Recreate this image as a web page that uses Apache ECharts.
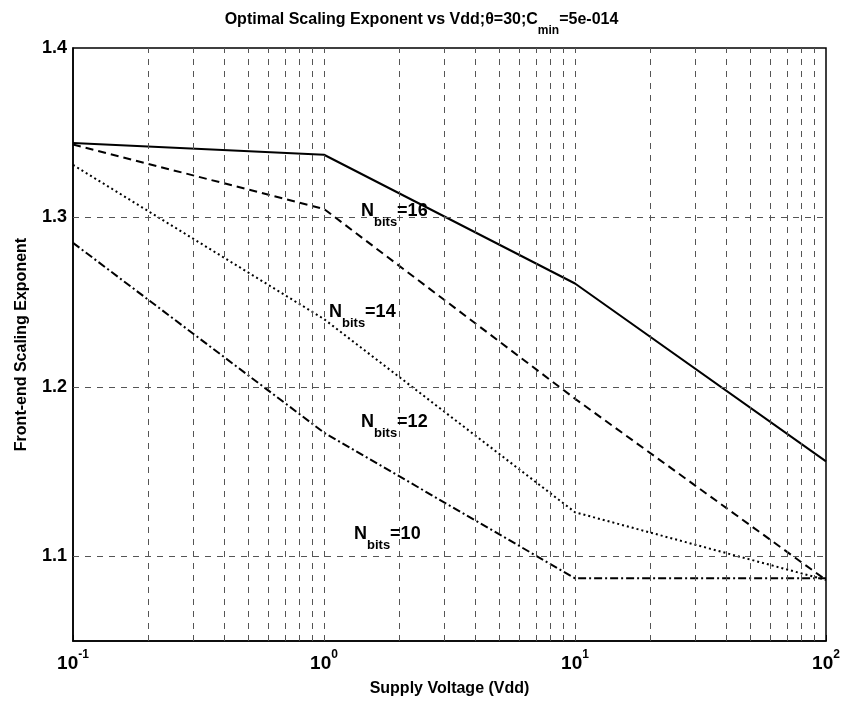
<!DOCTYPE html>
<html>
<head>
<meta charset="utf-8">
<script src="https://cdn.jsdelivr.net/npm/echarts@6/dist/echarts.min.js"></script>
<style>
  html, body { margin: 0; padding: 0; background: #fff; }
  #chart { width: 843px; height: 703px; }
</style>
</head>
<body>
<div id="chart"></div>
<script>
// supply voltage points (log x)
var vdd = [0.1, 1, 10, 100];
var nbits16 = [1.344, 1.337, 1.261, 1.156];
var nbits14 = [1.343, 1.305, 1.193, 1.086];
var nbits12 = [1.331, 1.240, 1.126, 1.086];
var nbits10 = [1.285, 1.173, 1.087, 1.087];
var xGrid = [0.2, 0.3, 0.4, 0.5, 0.6, 0.7, 0.8, 0.9, 1, 2, 3, 4, 5, 6, 7, 8, 9, 10, 20, 30, 40, 50, 60, 70, 80, 90];
var yGrid = [1.1, 1.2, 1.3];

function pairs(ys) {
  return vdd.map(function (v, i) { return [v, ys[i]]; });
}

var font = 'Liberation Sans, Arial, sans-serif';
var myChart = echarts.init(document.getElementById('chart'));

var gridLine = { color: '#555', width: 1, type: [6, 6] };

var option = {
  backgroundColor: '#fff',
  animation: false,
  title: {
    text: '{t|Optimal Scaling Exponent vs Vdd;θ=30;C}{s|min}{t|=5e-014}',
    left: 'center',
    top: 7,
    textStyle: {
      rich: {
        t: { fontFamily: font, fontWeight: 'bold', fontSize: 16, color: '#000', verticalAlign: 'top', lineHeight: 25 },
        s: { fontFamily: font, fontWeight: 'bold', fontSize: 12, color: '#000', verticalAlign: 'bottom', lineHeight: 25 }
      }
    }
  },
  grid: {
    left: 73, right: 17, top: 48, bottom: 62,
    outerBoundsMode: 'none',
    containLabel: false,
    show: true, borderColor: '#000', borderWidth: 1.5, backgroundColor: '#fff'
  },
  xAxis: {
    type: 'log',
    logBase: 10,
    min: 0.1,
    max: 100,
    name: 'Supply Voltage (Vdd)',
    nameLocation: 'middle',
    nameGap: 40,
    nameTextStyle: { fontFamily: font, fontWeight: 'bold', fontSize: 16, color: '#000' },
    axisLine: { lineStyle: { color: '#000', width: 1.5 } },
    axisTick: { inside: true, length: 6, lineStyle: { color: '#000' } },
    splitLine: { show: false },
    axisLabel: {
      margin: 8,
      formatter: function (v) {
        var e = Math.round(Math.log10(v));
        return '{b|10}{s|' + e + '}';
      },
      rich: {
        b: { fontFamily: font, fontWeight: 'bold', fontSize: 19, color: '#000', verticalAlign: 'bottom', lineHeight: 24 },
        s: { fontFamily: font, fontWeight: 'bold', fontSize: 12, color: '#000', verticalAlign: 'top', lineHeight: 24 }
      }
    }
  },
  yAxis: {
    type: 'value',
    min: 1.05,
    max: 1.4,
    interval: 0.05,
    name: 'Front-end Scaling Exponent',
    nameLocation: 'middle',
    nameGap: 43,
    nameTextStyle: { fontFamily: font, fontWeight: 'bold', fontSize: 16, color: '#000' },
    axisLine: { show: true, lineStyle: { color: '#000', width: 1.5 } },
    axisTick: { show: false },
    splitLine: { show: false },
    axisLabel: {
      margin: 6,
      fontFamily: font, fontWeight: 'bold', fontSize: 18, color: '#000',
      formatter: function (v) {
        return Math.round(v * 100) % 10 === 0 ? v.toFixed(1) : '';
      }
    }
  },
  series: [
    {
      type: 'line',
      data: [],
      silent: true,
      markLine: {
        silent: true,
        symbol: 'none',
        label: { show: false },
        lineStyle: gridLine,
        data: xGrid.map(function (v) { return { xAxis: v }; })
          .concat(yGrid.map(function (v) { return { yAxis: v }; }))
      }
    },
    {
      name: 'N=16', type: 'line', data: pairs(nbits16), symbol: 'none',
      lineStyle: { color: '#000', width: 2, type: 'solid' }
    },
    {
      name: 'N=14', type: 'line', data: pairs(nbits14), symbol: 'none',
      lineStyle: { color: '#000', width: 2, type: [8, 5] }
    },
    {
      name: 'N=12', type: 'line', data: pairs(nbits12), symbol: 'none',
      lineStyle: { color: '#000', width: 2, type: [2, 3] }
    },
    {
      name: 'N=10', type: 'line', data: pairs(nbits10), symbol: 'none',
      lineStyle: { color: '#000', width: 2, type: [8, 3, 2, 3] }
    }
  ]
};

function bitsLabel(x, y, n) {
  return {
    type: 'text', left: x, top: y, z: 10,
    style: {
      text: '{n|N}{s|bits}{n|=' + n + '}',
      rich: {
        n: { fontFamily: font, fontWeight: 'bold', fontSize: 18, fill: '#000', verticalAlign: 'top', lineHeight: 27 },
        s: { fontFamily: font, fontWeight: 'bold', fontSize: 13, fill: '#000', verticalAlign: 'bottom', lineHeight: 27 }
      }
    }
  };
}

option.graphic = [
  bitsLabel(361, 202, 16),
  bitsLabel(329, 303, 14),
  bitsLabel(361, 413, 12),
  bitsLabel(354, 525, 10)
];

myChart.setOption(option);
</script>
</body>
</html>
